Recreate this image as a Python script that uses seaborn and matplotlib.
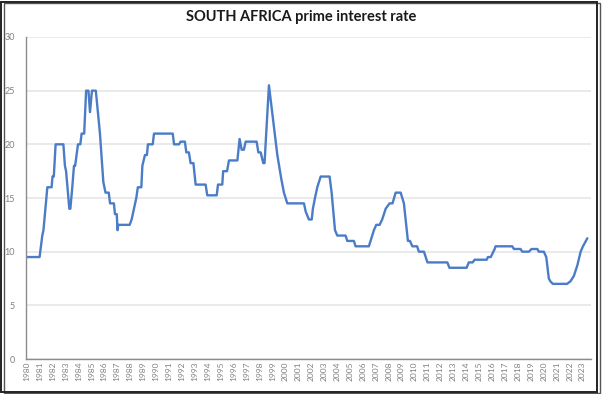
import numpy as np
import pandas as pd
import matplotlib
matplotlib.use('Agg')
import matplotlib.pyplot as plt
import seaborn as sns
from matplotlib.patches import Rectangle

# prime rate (decimal year, percent)
years = [1980.0, 1981.0, 1981.21, 1981.3, 1981.6, 1981.93, 1982.0, 1982.1, 1982.24, 1982.84,
         1982.96, 1983.05, 1983.3, 1983.38, 1983.53, 1983.66, 1983.75, 1983.97, 1984.15, 1984.25,
         1984.45, 1984.6, 1984.78, 1984.9, 1985.05, 1985.35, 1985.67, 1985.93, 1986.1, 1986.35,
         1986.45, 1986.75, 1986.83, 1986.97, 1987.03, 1987.08, 1987.97, 1988.12, 1988.3, 1988.48,
         1988.6, 1988.87, 1988.95, 1989.15, 1989.3, 1989.38, 1989.75, 1989.85, 1991.3, 1991.4,
         1991.78, 1991.91, 1992.24, 1992.35, 1992.55, 1992.68, 1992.9, 1993.07, 1993.84, 1993.97,
         1994.7, 1994.8, 1995.13, 1995.2, 1995.5, 1995.65, 1996.3, 1996.47, 1996.63, 1996.8,
         1996.94, 1997.79, 1997.92, 1998.1, 1998.3, 1998.4, 1998.74, 1999.39, 1999.7, 1999.9,
         2000.16, 2001.45, 2001.58, 2001.83, 2002.05, 2002.14, 2002.3, 2002.48, 2002.74, 2003.43,
         2003.59, 2003.85, 2004.03, 2004.67, 2004.8, 2005.31, 2005.44, 2006.47, 2006.6, 2006.86,
         2007.04, 2007.3, 2007.5, 2007.77, 2008.07, 2008.3, 2008.54, 2008.93, 2009.18, 2009.31,
         2009.49, 2009.65, 2009.83, 2010.2, 2010.34, 2010.73, 2011.0, 2012.54, 2012.7, 2014.03,
         2014.2, 2014.5, 2014.65, 2015.58, 2015.68, 2015.9, 2016.0, 2016.2, 2016.27, 2017.56,
         2017.69, 2018.2, 2018.34, 2018.85, 2019.05, 2019.5, 2019.62, 2020.0, 2020.19, 2020.39,
         2020.5, 2020.7, 2021.8, 2022.07, 2022.33, 2022.6, 2022.85, 2023.03, 2023.37]
rates = [9.5, 9.5, 11.5, 12, 16, 16, 17, 17, 20, 20,
         18, 17.5, 14, 14, 16, 18, 18, 20, 20, 21,
         21, 25, 25, 23, 25, 25, 21, 16.5, 15.5, 15.5,
         14.5, 14.5, 13.5, 13.5, 12, 12.5, 12.5, 13, 14, 15,
         16, 16, 18, 19, 19, 20, 20, 21, 21, 20,
         20, 20.25, 20.25, 19.25, 19.25, 18.25, 18.25, 16.25, 16.25, 15.25,
         15.25, 16.25, 16.25, 17.5, 17.5, 18.5, 18.5, 20.5, 19.5, 19.5,
         20.25, 20.25, 19.25, 19.25, 18.25, 18.25, 25.5, 19, 16.75, 15.5,
         14.5, 14.5, 13.75, 13, 13, 14, 15, 16, 17, 17,
         15.5, 12, 11.5, 11.5, 11, 11, 10.5, 10.5, 11, 12,
         12.5, 12.5, 13, 14, 14.5, 14.5, 15.5, 15.5, 14.5, 13,
         11, 11, 10.5, 10.5, 10, 10, 9, 9, 8.5, 8.5,
         9, 9, 9.25, 9.25, 9.5, 9.5, 9.75, 10.25, 10.5, 10.5,
         10.25, 10.25, 10, 10, 10.25, 10.25, 10, 10, 9.5, 7.5,
         7.25, 7, 7, 7.25, 7.75, 8.75, 10, 10.5, 11.25]
year_labels = list(range(1980, 2024))
y_ticks = [0, 5, 10, 15, 20, 25, 30]

df = pd.DataFrame({'year': years, 'rate': rates})

sns.set_style('white')
plt.rcParams['font.family'] = ['Lato', 'DejaVu Sans']

fig = plt.figure(figsize=(6.02, 3.94), dpi=100)
ax = fig.add_axes([0.0432, 0.0888, 0.9385, 0.8173])

sns.lineplot(data=df, x='year', y='rate', estimator=None, sort=False,
             color='#4A7CC7', linewidth=1.7, ax=ax)

ax.set_xlim(1979.95, 2023.65)
ax.set_ylim(0, 30)
ax.set_yticks(y_ticks)
ax.set_xticks(year_labels)
ax.set_xticklabels([str(y) for y in year_labels], rotation=90, fontsize=6, color='#808080')
ax.tick_params(axis='y', labelsize=6.5, colors='#808080', length=0, pad=8)
ax.tick_params(axis='x', length=0, pad=2)
ax.set_xlabel('')
ax.set_ylabel('')

ax.grid(axis='y', color='#E6E6E6', linewidth=1.2)
ax.grid(axis='x', visible=False)
for s in ['top', 'right']:
    ax.spines[s].set_visible(False)
for s in ['left', 'bottom']:
    ax.spines[s].set_color('#8C8C8C')
    ax.spines[s].set_linewidth(1.0)

fig.text(0.5, 0.957, 'SOUTH AFRICA prime interest rate', ha='center', va='center',
         fontsize=10.5, fontweight='bold', color='#1a1a1a')

# outer frame of the chart box
fig.patches.append(Rectangle((0.002, 0.006), 0.990, 0.990, transform=fig.transFigure,
                             fill=False, edgecolor='#222222', linewidth=1.4))
fig.patches.append(Rectangle((0.006, 0.002), 0.990, 0.990, transform=fig.transFigure,
                             fill=False, edgecolor='#555555', linewidth=1.0, zorder=-1))

fig.savefig('out.png', dpi=100)
